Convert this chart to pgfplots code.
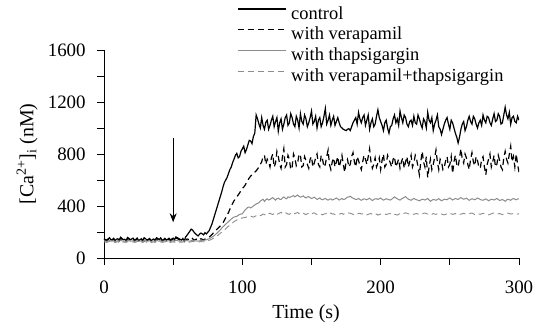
\documentclass[border=0pt]{standalone}
\usepackage{fontspec}
\setmainfont{Liberation Serif}
\usepackage{pgfplots}
\usepackage{pgfplotstable}
\pgfplotsset{compat=1.18}
\usetikzlibrary{arrows.meta}
\pgfplotstableread{
t c v th vt
0 150 145 132 124
1 142 138 130 122
2 138 132 128 120
3 147 141 131 124
4 156 150 135 127
5 139 135 129 121
6 142 138 130 122
7 152 146 133 125
8 134 128 126 119
9 145 139 130 122
10 148 144 133 125
11 137 132 128 120
12 160 152 136 128
13 150 144 132 124
14 141 136 129 121
15 144 140 131 123
16 133 130 127 120
17 158 149 134 126
18 151 146 134 126
19 140 136 129 121
20 146 141 131 123
21 153 145 132 124
22 137 133 128 120
23 143 138 130 122
24 153 148 135 127
25 135 131 128 120
26 140 137 130 122
27 148 143 131 123
28 134 129 127 119
29 156 150 134 126
30 149 145 133 125
31 138 134 129 121
32 143 139 130 122
33 150 146 132 124
34 131 127 126 118
35 142 137 130 122
36 146 142 132 124
37 136 131 128 120
38 156 151 136 128
39 149 144 132 124
40 141 137 129 121
41 155 148 133 125
42 136 133 128 120
43 141 136 130 122
44 151 147 134 126
45 137 132 128 120
46 144 140 131 123
47 152 145 132 124
48 139 134 128 120
49 146 139 130 122
50 153 148 133 125
51 140 137 129 121
52 162 155 137 129
53 157 150 134 126
54 149 143 131 123
55 144 138 130 122
56 138 132 129 121
57 150 137 131 123
58 130 140 132 124
59 162 134 133 125
60 175 146 134 126
61 190 144 131 123
62 205 135 130 122
63 222 140 133 125
64 215 150 136 128
65 200 136 134 126
66 188 142 132 124
67 178 145 131 123
68 170 137 130 122
69 182 141 132 124
70 192 148 134 126
71 186 144 135 125
72 178 140 136 125
73 195 145 138 127
74 185 150 140 130
75 198 155 144 133
76 210 160 148 136
77 235 170 154 140
78 260 180 160 145
79 295 192 167 151
80 330 205 175 158
81 365 215 185 165
82 400 225 195 172
83 435 235 205 181
84 470 245 215 190
85 505 258 228 198
86 545 270 240 205
87 580 290 250 215
88 600 310 260 225
89 620 330 270 235
90 650 350 280 245
91 680 375 290 254
92 700 400 300 262
93 735 420 308 271
94 760 440 315 280
95 790 455 318 286
96 805 470 320 292
97 770 485 328 296
98 780 500 335 300
99 820 520 338 304
100 840 535 340 308
101 860 545 355 310
102 810 560 370 312
103 835 580 380 315
104 870 600 390 318
105 905 615 392 320
106 900 630 385 322
107 880 640 392 318
108 935 650 400 315
109 960 660 408 320
110 1100 670 415 325
111 1070 685 420 322
112 1030 700 425 318
113 1000 720 438 326
114 1080 740 445 330
115 1020 780 452 338
116 990 790 435 335
117 1045 720 448 328
118 1060 760 455 330
119 990 740 446 340
120 1020 700 450 345
121 1060 770 458 338
122 1090 800 465 335
123 1010 700 454 342
124 1050 730 445 348
125 1080 820 456 336
126 975 780 460 340
127 1040 720 452 346
128 1070 690 450 352
129 990 780 462 342
130 1030 840 470 338
131 1080 700 460 348
132 1100 720 455 345
133 1020 790 470 338
134 1040 760 465 336
135 1110 680 470 344
136 1080 700 475 348
137 1030 800 480 340
138 1010 770 470 342
139 1090 710 478 346
140 1060 730 485 350
141 1000 800 474 342
142 1110 790 468 338
143 1050 700 472 344
144 1030 710 478 346
145 1100 780 468 338
146 1070 750 462 334
147 1010 720 470 340
148 1040 690 472 344
149 1080 760 464 346
150 1130 780 458 338
151 1030 700 462 344
152 1050 730 468 348
153 1090 770 460 340
154 1000 800 450 335
155 1060 720 456 340
156 1080 700 462 342
157 1010 790 452 336
158 1040 760 448 332
159 1090 700 454 338
160 1150 720 458 340
161 1030 780 450 344
162 1060 830 445 336
163 1100 720 452 342
164 1020 680 455 346
165 1060 740 446 338
166 1090 770 450 340
167 1020 700 456 334
168 1050 740 462 330
169 1080 780 454 336
170 1040 700 446 338
171 1010 740 452 340
172 1000 790 458 344
173 990 720 450 336
174 985 660 452 340
175 980 740 460 344
176 990 760 468 350
177 995 700 470 346
178 980 720 475 344
179 1010 780 466 340
180 1040 810 460 336
181 1060 740 455 332
182 1080 700 450 330
183 1030 780 452 338
184 1120 750 458 342
185 1070 710 450 344
186 1040 680 444 338
187 1080 740 450 340
188 1100 790 455 345
189 1020 760 452 338
190 1060 720 448 332
191 1100 780 454 336
192 990 840 460 340
193 1040 740 450 342
194 1070 690 442 336
195 1010 720 450 340
196 1030 770 455 344
197 1090 700 456 336
198 1140 730 450 330
199 1080 770 456 334
200 1050 680 462 338
201 1020 750 452 340
202 980 800 445 342
203 1040 700 450 338
204 1060 720 456 334
205 1000 790 452 338
206 960 760 448 340
207 1010 730 446 342
208 1020 700 452 346
209 1070 760 462 340
210 1100 780 470 336
211 1040 700 462 334
212 1070 730 455 330
213 1020 760 450 336
214 1130 690 445 342
215 1080 740 454 340
216 1040 770 460 338
217 1100 690 466 344
218 1080 740 472 348
219 1030 780 462 344
220 1010 700 452 340
221 1050 740 448 338
222 1060 790 444 344
223 1020 700 452 340
224 1090 730 458 336
225 1040 790 452 340
226 1030 760 448 342
227 1100 700 444 338
228 1070 640 440 334
229 1030 740 446 338
230 1000 820 452 340
231 1070 740 450 344
232 1050 700 446 346
233 1000 780 452 342
234 1120 620 458 338
235 1060 700 446 334
236 1040 760 436 330
237 1080 680 444 336
238 980 720 450 342
239 1030 770 448 338
240 1060 830 444 336
241 1100 740 450 340
242 1010 680 456 344
243 990 760 448 340
244 950 740 440 338
245 990 680 446 334
246 1030 700 452 332
247 1060 750 450 336
248 1080 780 448 340
249 1030 700 456 344
250 990 720 462 346
251 1060 780 454 340
252 1040 650 446 336
253 1000 740 452 338
254 960 790 458 342
255 930 720 454 336
256 885 700 450 330
257 930 770 458 334
258 990 840 465 338
259 1030 760 458 340
260 1050 730 452 344
261 980 800 456 340
262 1010 770 460 336
263 1060 720 452 338
264 1090 680 444 340
265 1050 760 450 344
266 1030 810 456 346
267 1090 740 452 340
268 1070 710 448 334
269 1030 780 454 336
270 1000 750 462 340
271 1040 700 456 338
272 1060 690 450 336
273 1020 760 446 340
274 1100 780 444 344
275 1060 700 450 340
276 1040 640 455 338
277 1090 720 448 334
278 1080 760 440 332
279 1040 800 446 336
280 1020 700 452 340
281 1070 740 450 344
282 1110 790 446 346
283 1050 700 452 342
284 1060 720 458 338
285 1110 790 450 340
286 1090 750 442 342
287 1030 700 446 338
288 1040 680 450 334
289 1100 770 444 336
290 1160 820 436 340
291 1100 760 446 342
292 1070 730 452 345
293 1120 800 448 342
294 1030 860 444 338
295 1080 740 452 340
296 1090 780 458 342
297 1050 700 452 340
298 1040 800 448 336
299 1090 720 454 338
300 1060 660 455 340
}\datatable
\begin{document}
\fontsize{18.5}{22}\selectfont
\begin{tikzpicture}
\useasboundingbox (-104bp,-73bp) rectangle (438bp,258bp);
\begin{axis}[
  at={(0,0)}, anchor=south west,
  scale only axis, width=415bp, height=208bp,
  xmin=0, xmax=300, ymin=0, ymax=1600,
  axis x line*=bottom, axis y line*=left,
  axis line style={-, line width=0.8bp},
  tick align=outside, major tick length=7bp,
  tick style={black, line width=0.8bp},
  xtick={0,50,...,300}, xticklabels={0,,100,,200,,300},
  ytick={0,200,...,1600}, yticklabels={0,,400,,800,,1200,,1600},
  ticklabel style={font=\fontsize{19}{22}\selectfont},
  xticklabel style={yshift=-10bp},
  yticklabel style={xshift=-5bp},
  xlabel={Time (s)},
  ylabel={[Ca\textsuperscript{2+}]\textsubscript{i} (nM)},
  label style={font=\fontsize{20}{24}\selectfont},
  xlabel style={at={(axis description cs:0.487,-0.269)}, anchor=center},
  ylabel style={at={(axis description cs:-0.1855,0.5)}, anchor=center},
  legend style={at={(0.3205,1.216)}, anchor=north west, draw=none, fill=none,
    inner sep=0pt, outer sep=0pt, font=\fontsize{18.5}{22}\selectfont,
    column sep=5bp, row sep=2.7bp,
    nodes={inner sep=0pt, text height=14bp, text depth=4bp}},
  legend cell align=left,
  legend image code/.code={\draw[#1] (0bp,5bp) -- (48bp,5bp);},
]
\addplot[black, line width=1.2bp] table[x=t, y=c] {\datatable};
\addlegendentry{control}
\addplot[black, line width=1.2bp, dash pattern=on 6bp off 4bp] table[x=t, y=v] {\datatable};
\addlegendentry{with verapamil}
\addplot[black!45, line width=1bp] table[x=t, y=th] {\datatable};
\addlegendentry{with thapsigargin}
\addplot[black!45, line width=0.9bp, dash pattern=on 6bp off 4bp] table[x=t, y=vt] {\datatable};
\addlegendentry{with verapamil+thapsigargin}
\draw[-{Stealth[length=9bp,width=7bp]}, line width=1.1bp] (axis cs:50,925) -- (axis cs:50,275);
\end{axis}
\end{tikzpicture}
\end{document}
